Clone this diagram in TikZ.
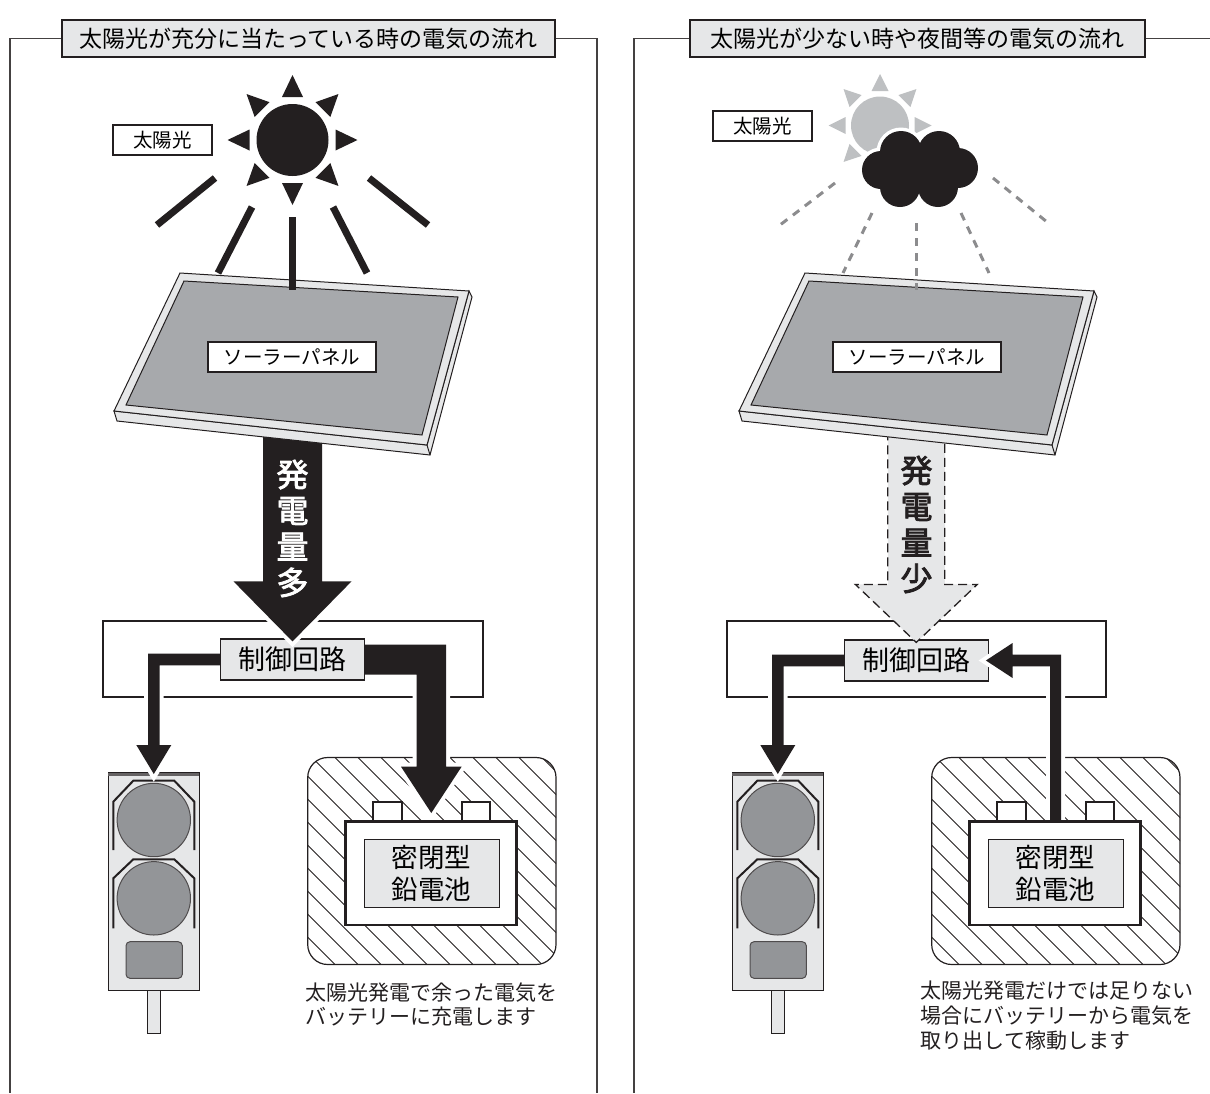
\documentclass[tikz,border=0pt]{standalone}
\usepackage{fontspec}
\setmainfont{Noto Sans CJK JP}
\newfontfamily\heavyjp[FakeBold=2.5]{Noto Sans CJK JP}
\usetikzlibrary{calc}
\definecolor{ink}{RGB}{35,31,32}
\definecolor{lgray}{RGB}{230,231,232}
\definecolor{pgray}{RGB}{167,169,172}
\definecolor{lamp}{RGB}{147,149,152}
\definecolor{sungray}{RGB}{190,192,194}
\definecolor{raygray}{RGB}{140,140,142}
\begin{document}
\begin{tikzpicture}[x=1pt,y=-1pt,
  frame/.style={draw=ink!85, line width=1.4},
  titlebox/.style={draw=ink, line width=1.3, fill=lgray, inner sep=0, font=\fontsize{23}{28}\selectfont},
  tagbox/.style={draw=ink, line width=1.2, fill=white, inner sep=0, font=\fontsize{19.5}{24}\selectfont},
  ctrlbox/.style={draw=ink, line width=1.2, fill=lgray, inner sep=0, font=\fontsize{27}{32}\selectfont},
  cellbox/.style={draw=ink, line width=1, fill=lgray, inner sep=0, align=center, font=\fontsize{26.5}{32}\selectfont},
  note/.style={align=left, inner sep=0, anchor=north west, text=ink},
  ray/.style={draw=ink, line width=7},
  dimray/.style={draw=raygray, line width=3, dash pattern=on 8 off 7},
  halo/.style={fill=ink, preaction={draw=white, line width=8, line join=miter}},
  dimflow/.style={fill=lgray, draw=ink, line width=1.3, dash pattern=on 9 off 5},
  amount/.style={inner sep=0, align=center, font=\heavyjp\fontsize{32}{36}\selectfont}
]
\useasboundingbox (0,0) rectangle (1210,1093);

% ---------- headings and frames ----------
\node[titlebox, minimum width=493, minimum height=37] (titleL) at (308.5,38.5) {太陽光が充分に当たっている時の電気の流れ};
\node[titlebox, minimum width=455, minimum height=37] (titleR) at (917.5,38.5) {太陽光が少ない時や夜間等の電気の流れ};
\draw[frame] (titleL.west) -- (10,38.5) -- (10,1093);
\draw[frame] (titleL.east) -- (597,38.5) -- (597,1093);
\draw[frame] (titleR.west) -- (634,38.5) -- (634,1093);
\draw[frame] (titleR.east) -- (1210,38.5);

% ---------- control circuit housings ----------
\draw[ink, line width=2] (103.3,620.7) rectangle (482.7,696.7);
\draw[ink, line width=2] (726.7,620.7) rectangle (1106,696.7);

% ---------- hatched battery enclosures ----------
\foreach \dx in {0,624}{
  \begin{scope}[shift={(\dx,0)}]
    \begin{scope}
      \clip[rounded corners=20] (307.7,757.5) rectangle (556,964.5);
      \foreach \k in {-10,...,11}
        \draw[ink, line width=0.9] ({312+23*\k},757.5) -- ++(215,215);
    \end{scope}
    \draw[ink, line width=1.2, rounded corners=20] (307.7,757.5) rectangle (556,964.5);
  \end{scope}
}

% ---------- signal lamps ----------
\foreach \dx in {0,624}{
  \begin{scope}[shift={(\dx,0)}]
    \filldraw[fill=lgray, draw=ink, line width=1] (147.7,990) rectangle (160,1033.3);
    \filldraw[fill=lgray, draw=ink, line width=1] (108.3,772.7) rectangle (199.3,990);
    \draw[ink!70, line width=3] (108.3,774) -- (199.3,774);
    \filldraw[fill=lamp, draw=ink!80, line width=1] (153.8,820) circle (36.7);
    \filldraw[fill=lamp, draw=ink!80, line width=1] (153.8,898.3) circle (36.7);
    \draw[ink, line width=2] (113.3,850) -- (113.3,801.7) -- (133.3,780.7) -- (174.3,780.7) -- (194.3,801.7) -- (194.3,850);
    \draw[ink, line width=2] (113.3,928.3) -- (113.3,878.3) -- (133.3,859.3) -- (174.3,859.3) -- (194.3,878.3) -- (194.3,928.3);
    \filldraw[fill=lamp, draw=ink!80, line width=1, rounded corners=4] (126,941.7) rectangle (182.3,978.3);
  \end{scope}
}
\coordinate (lampL) at (153.8,774);
\coordinate (lampR) at (777.8,774);
\coordinate (cellL) at (431.3,813);
\coordinate (cellR) at (1055.5,823);

% ---------- flows leaving the control circuits ----------
\coordinate (ctrlLw) at (220.7,659.5);
\coordinate (ctrlLe) at (364.3,659.5);
\coordinate (ctrlRw) at (844.3,660.5);
\fill[halo] ($(ctrlLw)+(0,-5.8)$) -| ($(lampL)+(-5.8,-29)$) -- ++(-11.7,0) -- (lampL)
  -- ($(lampL)+(17.5,-29)$) -- ($(lampL)+(5.8,-29)$) |- ($(ctrlLw)+(0,5.8)$) -- cycle;
\fill[halo] ($(ctrlLe)+(0,-15)$) -| ($(cellL)+(14.7,-46.3)$) -- ++(15.6,0) -- (cellL)
  -- ($(cellL)+(-30.3,-46.3)$) -- ($(cellL)+(-14.7,-46.3)$) |- ($(ctrlLe)+(0,15)$) -- cycle;
\fill[halo] ($(ctrlRw)+(0,-5.8)$) -| ($(lampR)+(-5.8,-29)$) -- ++(-11.7,0) -- (lampR)
  -- ($(lampR)+(17.5,-29)$) -- ($(lampR)+(5.8,-29)$) |- ($(ctrlRw)+(0,5.8)$) -- cycle;

% ---------- control circuit labels ----------
\node[ctrlbox, minimum width=143.6, minimum height=41] (ctrlL) at (292.5,659.5) {制御回路};
\node[ctrlbox, minimum width=144, minimum height=41] (ctrlR) at (916.3,660.5) {制御回路};

% battery feeding the circuit at night
\coordinate (tipR) at ($(ctrlR.east)+(-3,0)$);
\fill[halo] ($(cellR)+(-5.5,0)$) |- ($(tipR)+(26.7,5.8)$) -- ++(0,11.7) -- (tipR)
  -- ($(tipR)+(26.7,-17.5)$) -- ($(tipR)+(26.7,-5.8)$) -| ($(cellR)+(5.5,0)$) -- cycle;

% ---------- sealed lead batteries ----------
\foreach \dx/\s in {0/L,624/R}{
  \begin{scope}[shift={(\dx,0)}]
    \filldraw[fill=white, draw=ink, line width=2] (373.3,801.7) rectangle (401.7,821.7);
    \filldraw[fill=white, draw=ink, line width=2] (461.7,801.7) rectangle (490,821.7);
    \filldraw[fill=white, draw=ink, line width=2.6] (345.7,821.7) rectangle (516.7,925);
    \node[cellbox, minimum width=135, minimum height=68] (lead\s) at (431.5,873.3) {密閉型\\鉛電池};
  \end{scope}
}

% ---------- generation flows ----------
\coordinate (genL) at ($(ctrlL.north)+(0,3)$);
\coordinate (genR) at ($(ctrlR.north)+(0,3)$);
\fill[halo] ($(genL)+(-29.5,-225)$) -- ($(genL)+(-29.5,-60)$) -- ($(genL)+(-59,-60)$) -- (genL)
  -- ($(genL)+(59,-60)$) -- ($(genL)+(29.5,-60)$) -- ($(genL)+(29.5,-225)$) -- cycle;
\filldraw[dimflow] ($(genR)+(-28.5,-225)$) -- ($(genR)+(-28.5,-58)$) -- ($(genR)+(-61,-58)$) -- (genR)
  -- ($(genR)+(61,-58)$) -- ($(genR)+(28.5,-58)$) -- ($(genR)+(28.5,-225)$);
\node[amount, text=white] (amountL) at (292.5,528.5) {発\\電\\量\\多};
\node[amount, text=ink] (amountR) at (916.5,524.5) {発\\電\\量\\少};

% ---------- solar panels ----------
\foreach \dx/\s in {0/L,625/R}{
  \begin{scope}[shift={(\dx,0)}]
    \filldraw[fill=lgray, draw=ink, line width=1] (114,411) -- (427,445) -- (469,291) -- (472,297) -- (430,455) -- (117,421) -- cycle;
    \draw[ink, line width=1] (427,445) -- (430,455);
    \filldraw[fill=lgray, draw=ink, line width=1] (180,273) -- (469,291) -- (427,445) -- (114,411) -- cycle;
    \filldraw[fill=pgray, draw=ink, line width=1] (184,281) -- (458,297) -- (422,435) -- (126,405) -- cycle;
    \node[tagbox, minimum width=168, minimum height=30] (panel\s) at (292,357) {ソーラーパネル};
  \end{scope}
}

% ---------- bright sun ----------
\coordinate (sunL) at (292.5,140);
\fill[ink] (sunL) circle (36);
\foreach \a in {0,45,...,315}
  \fill[ink] ($(sunL)+(\a:65)$) -- ($(sunL)+(\a:43)+(\a+90:10.5)$) -- ($(sunL)+(\a:43)+(\a-90:10.5)$) -- cycle;
\draw[ray] (215,178) -- (157,225);
\draw[ray] (252,207) -- (218,273);
\draw[ray] (292.5,217) -- (292.5,290);
\draw[ray] (333,207) -- (367,273);
\draw[ray] (369,178) -- (428,225);
\node[tagbox, minimum width=99, minimum height=30] (sunlabelL) at (162.5,140) {太陽光};

% ---------- clouded sun ----------
\coordinate (sunR) at (880,125.5);
\fill[sungray] (sunR) circle (29);
\foreach \a in {0,45,...,315}
  \fill[sungray] ($(sunR)+(\a:51.5)$) -- ($(sunR)+(\a:34.5)+(\a+90:8.5)$) -- ($(sunR)+(\a:34.5)+(\a-90:8.5)$) -- cycle;
\foreach \c/\r in {{(901,152)}/21,{(939,152)}/21,{(881,170)}/19,{(958,168)}/20,{(900,187)}/20,{(938,187)}/20}
  \fill[white] \c circle ({\r+3.5});
\foreach \c/\r in {{(901,152)}/21,{(939,152)}/21,{(881,170)}/19,{(958,168)}/20,{(900,187)}/20,{(938,187)}/20}
  \fill[ink] \c circle (\r);
\fill[ink] (890,155) rectangle (950,190);
\draw[dimray] (835,183) -- (780,225);
\draw[dimray] (872,213) -- (843,273);
\draw[dimray] (916,223) -- (916,290);
\draw[dimray] (961,213) -- (989,273);
\draw[dimray] (993,178) -- (1047,222);
\node[tagbox, minimum width=99, minimum height=30] (sunlabelR) at (762.5,126) {太陽光};

% ---------- notes ----------
\node[note, font=\fontsize{21}{24}\selectfont] (noteL) at (305,982.5) {太陽光発電で余った電気を\\バッテリーに充電します};
\node[note, font=\fontsize{21}{25}\selectfont] (noteR) at (920.5,981) {太陽光発電だけでは足りない\\場合にバッテリーから電気を\\取り出して稼動します};
\end{tikzpicture}
\end{document}
